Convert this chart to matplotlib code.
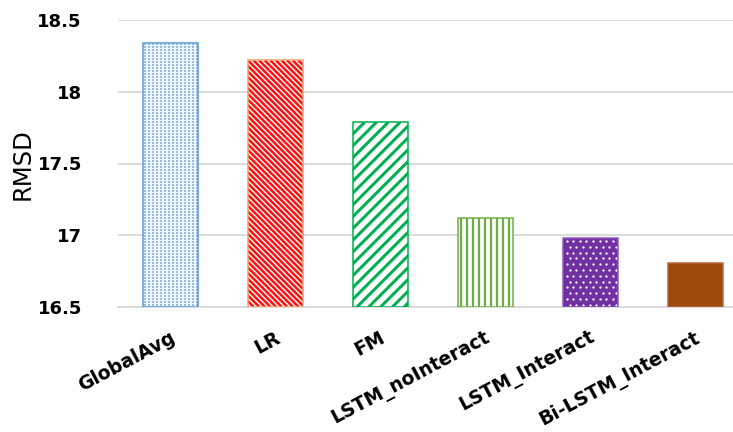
import numpy as np
import matplotlib
matplotlib.use("Agg")
import matplotlib.pyplot as plt
from matplotlib.collections import LineCollection
from matplotlib.transforms import ScaledTranslation

models = ["GlobalAvg", "LR", "FM", "LSTM_noInteract", "LSTM_Interact", "Bi-LSTM_Interact"]
rmsd = [18.34, 18.22, 17.79, 17.12, 16.98, 16.81]
y_ticks = [16.5, 17.0, 17.5, 18.0, 18.5]
y_tick_labels = ["16.5", "17", "17.5", "18", "18.5"]

W, H, DPI = 733, 432, 100
fig = plt.figure(figsize=(W / DPI, H / DPI), dpi=DPI)
ax = fig.add_axes([118 / W, (H - 307) / H, (W - 118) / W, (307 - 20) / H])

x = np.arange(len(models))
ax.set_xlim(-0.5, 5.357)
ax.set_ylim(16.5, 18.5)

# styling of each bar: face, edge and fill pattern
styles = [
    dict(face="#F2F7FC", edge="#5B9BD5", pattern=("grid", "#93BDE6")),
    dict(face="white", edge="#F4A06A", pattern=("back", "#FF1010", 5.6, 2.5)),
    dict(face="white", edge="#00B050", pattern=("fwd", "#00B050", 11.8, 3.0)),
    dict(face="white", edge="#70AD47", pattern=("vert", "#70AD47", 6.0, 2.3)),
    dict(face="#7030A0", edge="#8E5BBE", pattern=("dots", "white")),
    dict(face="#9E480E", edge="#B8673A", pattern=None),
]

bars = ax.bar(x, [v - 16.5 for v in rmsd], bottom=16.5, width=0.52,
              color=[s["face"] for s in styles], linewidth=0, zorder=2)

inv = ax.transData.inverted()


def add_lines(bar, kind, color, spacing, lw_px):
    bb = bar.get_window_extent()
    x0, y0, x1, y1 = bb.x0, bb.y0, bb.x1, bb.y1
    segs = []
    if kind == "vert":
        for xc in np.arange(x0 + spacing * 0.5, x1 + spacing, spacing):
            segs.append([(xc, y0), (xc, y1)])
    elif kind == "fwd":
        for c in np.arange(x0 - (y1 - y0) - spacing, x1 + spacing, spacing):
            segs.append([(c, y0), (c + (y1 - y0), y1)])
    elif kind == "back":
        for c in np.arange(x0 - spacing, x1 + (y1 - y0) + spacing, spacing):
            segs.append([(c, y0), (c - (y1 - y0), y1)])
    data_segs = [inv.transform(np.array(s)) for s in segs]
    lc = LineCollection(data_segs, colors=color, linewidths=lw_px * 72 / DPI,
                        zorder=3, antialiased=True)
    ax.add_collection(lc, autolim=False)
    lc.set_clip_path(bar)


def add_points(bar, color, dx, dy, size_px, stagger, marker):
    bb = bar.get_window_extent()
    pts = []
    for j, yy in enumerate(np.arange(bb.y1 - dy / 2, bb.y0, -dy)):
        off = dx / 2 if (stagger and j % 2) else 0.0
        for xx in np.arange(bb.x0 + dx / 2 + off, bb.x1, dx):
            pts.append((xx, yy))
    pts = inv.transform(np.array(pts))
    sc = ax.scatter(pts[:, 0], pts[:, 1], s=(size_px * 72 / DPI) ** 2,
                    marker=marker, c=color, linewidths=0, zorder=3)
    sc.set_clip_path(bar)


for bar, st in zip(bars, styles):
    pat = st["pattern"]
    if pat is None:
        continue
    if pat[0] in ("vert", "fwd", "back"):
        add_lines(bar, *pat)
    elif pat[0] == "grid":
        add_points(bar, pat[1], 4.0, 3.0, 2.6, False, "s")
    elif pat[0] == "dots":
        add_points(bar, pat[1], 6.6, 5.8, 2.3, True, "o")

# crisp outline on top of the patterns
ax.bar(x, [v - 16.5 for v in rmsd], bottom=16.5, width=0.52, fill=False,
       edgecolor=[s["edge"] for s in styles], linewidth=1.1, zorder=4)

# axes decoration
for side in ("top", "right", "left"):
    ax.spines[side].set_visible(False)
ax.spines["bottom"].set_color("#D9D9D9")
ax.spines["bottom"].set_linewidth(1.3)
ax.spines["bottom"].set_zorder(1)
ax.yaxis.grid(True, color="#D9D9D9", linewidth=1.3, zorder=0)
ax.set_axisbelow(True)

ax.set_yticks(y_ticks)
ax.set_yticklabels(y_tick_labels, fontsize=13, fontweight="bold",
                   family="DejaVu Sans")
ax.tick_params(axis="y", length=0, pad=26)
ax.set_xticks(x)
ax.set_xticklabels([])
ax.tick_params(axis="x", length=0)

label_tr = ax.get_xaxis_transform() + ScaledTranslation(-1 / DPI, -21 / DPI,
                                                        fig.dpi_scale_trans)
for xi, name in zip(x, models):
    ax.text(xi, 0, name, transform=label_tr, rotation=28,
            rotation_mode="anchor", ha="right", va="top",
            fontsize=13.5, fontweight="bold", family="DejaVu Sans")

fig.text(23 / W, 1 - 164 / H, "RMSD", rotation=90, ha="center", va="center",
         fontsize=17.5, family="DejaVu Sans")

fig.savefig("out.png", dpi=DPI)
